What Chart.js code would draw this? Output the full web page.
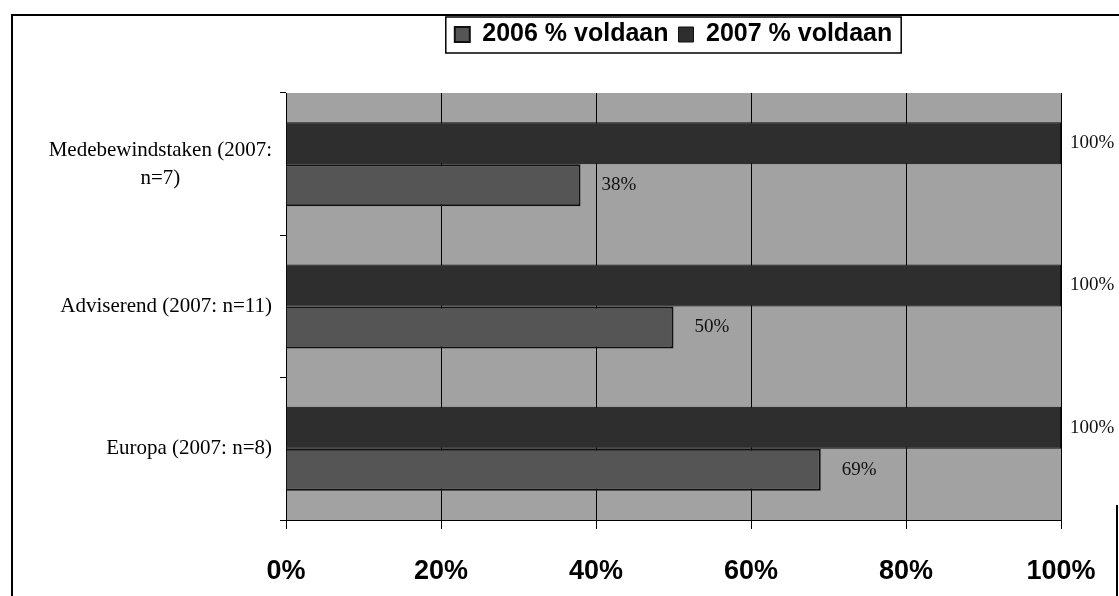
<!DOCTYPE html>
<html>
<head>
<meta charset="utf-8">
<script src="https://cdn.jsdelivr.net/npm/chart.js@4.4.1/dist/chart.umd.min.js"></script>
<style>
  html, body { margin: 0; padding: 0; background: #fff; }
  #wrap { width: 1119px; height: 596px; }
</style>
</head>
<body>
<div id="wrap"><canvas id="voldaanChart" width="1119" height="596"></canvas></div>
<script>
// data
const categories = [['Medebewindstaken (2007:', 'n=7)'], 'Adviserend (2007: n=11)', 'Europa (2007: n=8)'];
const values2006 = [38, 50, 69];
const values2007 = [100, 100, 100];
const xTicks = [0, 20, 40, 60, 80, 100];

// outer frame + plot background
const framePlugin = {
  id: 'frame',
  beforeDraw(chart) {
    const { ctx, chartArea: a } = chart;
    ctx.save();
    ctx.fillStyle = '#a2a2a2';
    ctx.fillRect(a.left, a.top, a.right - a.left, a.bottom - a.top);
    ctx.strokeStyle = '#000';
    ctx.lineWidth = 2;
    ctx.beginPath();
    ctx.moveTo(12, 596);
    ctx.lineTo(12, 15);
    ctx.lineTo(1119, 15);
    ctx.moveTo(1117, 505);
    ctx.lineTo(1117, 596);
    ctx.stroke();
    ctx.restore();
  },
  afterDraw(chart) {
    // border round the legend
    const boxes = chart.legend.legendHitBoxes;
    if (!boxes || !boxes.length) return;
    const first = boxes[0], last = boxes[boxes.length - 1];
    const ctx = chart.ctx;
    ctx.save();
    ctx.strokeStyle = '#000';
    ctx.lineWidth = 1.5;
    ctx.strokeRect(first.left - 9, first.top - 5, last.left + last.width - first.left + 18, first.height + 11);
    ctx.restore();
  }
};

// category labels, multi-line ones centred on themselves
const catLabelPlugin = {
  id: 'catLabels',
  afterDraw(chart) {
    const ctx = chart.ctx;
    const yScale = chart.scales.y;
    ctx.save();
    ctx.font = '21px "Liberation Serif", "Times New Roman", serif';
    ctx.fillStyle = '#000';
    ctx.textBaseline = 'middle';
    ctx.textAlign = 'center';
    const right = 272;
    const lineH = 28;
    categories.forEach((lab, i) => {
      const lines = Array.isArray(lab) ? lab : [lab];
      const w = Math.max(...lines.map(l => ctx.measureText(l).width));
      const cx = right - w / 2;
      const y0 = yScale.getPixelForTick(i) - (lines.length - 1) * lineH / 2;
      lines.forEach((l, j) => ctx.fillText(l, cx, y0 + j * lineH));
    });
    ctx.restore();
  }
};

// value labels next to bar ends
const valueLabelPlugin = {
  id: 'valueLabels',
  afterDatasetsDraw(chart) {
    const ctx = chart.ctx;
    ctx.save();
    ctx.font = '19px "Liberation Serif", "Times New Roman", serif';
    ctx.fillStyle = '#111';
    ctx.textBaseline = 'middle';
    ctx.textAlign = 'left';
    chart.data.datasets.forEach((ds, di) => {
      chart.getDatasetMeta(di).data.forEach((bar, i) => {
        const v = ds.data[i];
        const off = v >= 100 ? 9 : 21;
        ctx.fillText(v + '%', bar.x + off, bar.y);
      });
    });
    ctx.restore();
  }
};

const ctx = document.getElementById('voldaanChart').getContext('2d');
new Chart(ctx, {
  type: 'bar',
  data: {
    labels: categories,
    datasets: [
      {
        label: '2007 % voldaan',
        data: values2007,
        backgroundColor: '#2e2e2e',
        borderColor: '#111',
        borderWidth: 1,
      },
      {
        label: '2006 % voldaan',
        data: values2006,
        backgroundColor: '#555555',
        borderColor: '#111',
        borderWidth: 2,
      },
    ],
  },
  options: {
    indexAxis: 'y',
    responsive: false,
    animation: false,
    layout: {
      padding: { left: 286, right: 58, top: 12, bottom: 0 },
    },
    datasets: {
      bar: { categoryPercentage: 0.59, barPercentage: 1.0 },
    },
    plugins: {
      legend: {
        position: 'top',
        reverse: true,
        labels: {
          boxWidth: 15,
          boxHeight: 15,
          padding: 10,
          color: '#000',
          font: { family: '"Liberation Sans", Arial, sans-serif', size: 25, weight: 'bold' },
        },
      },
      title: {
        // spacer between legend and plot
        display: true,
        text: '',
        weight: 500,
        font: { size: 10, lineHeight: 1 },
        padding: { top: 0, bottom: 26 },
      },
      tooltip: { enabled: false },
    },
    scales: {
      x: {
        min: 0,
        max: 100,
        afterBuildTicks(scale) {
          scale.ticks = xTicks.map(v => ({ value: v }));
        },
        afterFit(scale) {
          scale.height = 76;
          scale.paddingRight = 20;
        },
        ticks: {
          padding: 26,
          color: '#000',
          font: { family: '"Liberation Sans", Arial, sans-serif', size: 27, weight: 'bold' },
          callback: v => v + '%',
        },
        grid: { color: '#000', lineWidth: 1, tickLength: 9 },
        border: { color: '#000', width: 1 },
      },
      y: {
        ticks: { display: false },
        afterFit(scale) {
          scale.width = 0;
        },
        grid: { drawOnChartArea: false, color: '#000', tickLength: 6, offset: true },
        border: { color: '#000', width: 1 },
      },
    },
  },
  plugins: [framePlugin, catLabelPlugin, valueLabelPlugin],
});
</script>
</body>
</html>
